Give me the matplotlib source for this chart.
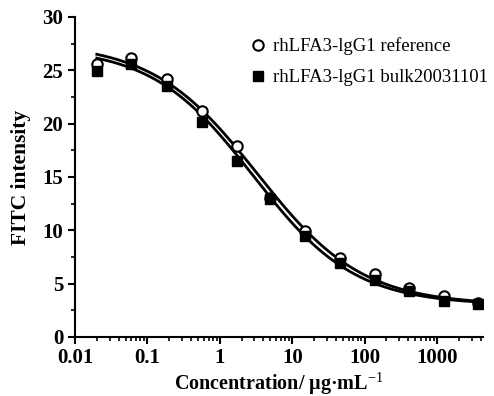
import numpy as np
import matplotlib
matplotlib.use("Agg")
import matplotlib.pyplot as plt
from matplotlib.ticker import MultipleLocator, LogLocator, NullFormatter, FixedLocator, FixedFormatter

plt.rcParams['font.family'] = ['Liberation Serif', 'DejaVu Serif']
plt.rcParams['mathtext.fontset'] = 'custom'
plt.rcParams['mathtext.rm'] = 'Liberation Serif'
plt.rcParams['mathtext.bf'] = 'Liberation Serif:bold'

# concentrations (ug/mL), 3-fold dilution series
conc = [0.02, 0.06, 0.185, 0.56, 1.7, 5.0, 15.0, 45.0, 138.0, 410.0, 1230.0, 3700.0]
ref_vals = [25.6, 26.2, 24.2, 21.2, 17.9, 13.0, 9.9, 7.4, 5.9, 4.6, 3.8, 3.2]
bulk_vals = [24.9, 25.6, 23.5, 20.2, 16.5, 12.9, 9.5, 6.9, 5.3, 4.3, 3.4, 3.1]

# 4-parameter logistic fit params (top, bottom, ec50, hill)
ref_fit = (27.6, 3.0, 3.3, 0.6)
bulk_fit = (27.2, 3.0, 2.9, 0.62)


def logistic4(x, top, bottom, ec50, hill):
    return bottom + (top - bottom) / (1 + (x / ec50) ** hill)


fig = plt.figure(figsize=(4.94, 3.96), dpi=100)
ax = fig.add_axes([75 / 494, 59 / 396, 408 / 494, 320 / 396])

xs = np.logspace(np.log10(0.02), np.log10(3700), 300)
ax.plot(xs, logistic4(xs, *ref_fit), color='black', lw=2)
ax.plot(xs, logistic4(xs, *bulk_fit), color='black', lw=2)

ax.plot(conc, ref_vals, 'o', ms=7.5, mfc='white', mec='black', mew=1.5,
        ls='none', label='rhLFA3-lgG1 reference')
ax.plot(conc, bulk_vals, 's', ms=6.5, mfc='black', mec='black',
        ls='none', label='rhLFA3-lgG1 bulk20031101')

ax.set_xscale('log')
ax.set_xlim(0.01, 4300)
ax.set_ylim(0, 30)
ax.yaxis.set_major_locator(MultipleLocator(5))
ax.yaxis.set_minor_locator(MultipleLocator(2.5))
ax.xaxis.set_major_locator(FixedLocator([0.01, 0.1, 1, 10, 100, 1000]))
ax.xaxis.set_major_formatter(FixedFormatter(['0.01', '0.1', '1', '10', '100', '1000']))
ax.xaxis.set_minor_locator(LogLocator(base=10, subs=np.arange(2, 10)))
ax.xaxis.set_minor_formatter(NullFormatter())

for s in ['top', 'right']:
    ax.spines[s].set_visible(False)
for s in ['left', 'bottom']:
    ax.spines[s].set_linewidth(1.5)
ax.tick_params(which='major', direction='out', length=5, width=1.5, labelsize=15)
ax.tick_params(axis='x', which='major', pad=3)
ax.tick_params(which='minor', direction='out', length=3, width=1.2)
for lab in ax.get_xticklabels() + ax.get_yticklabels():
    lab.set_fontweight('bold')

ax.set_ylabel('FITC intensity', fontsize=15.5, fontweight='bold')
ax.yaxis.set_label_coords(-44 / 408, 0.5)
ax.set_xlabel('Concentration/ μg·mL$^{\\mathrm{-1}}$', fontsize=14.5, fontweight='bold',
              va='center')
ax.xaxis.set_label_coords(0.5, -46.5 / 320)

ax.legend(loc='upper left', frameon=False, fontsize=13.5, handletextpad=0.3,
          bbox_to_anchor=(0.407, 0.96), labelspacing=0.75, handlelength=1.0,
          borderaxespad=0)

fig.savefig('out.png', dpi=100)
